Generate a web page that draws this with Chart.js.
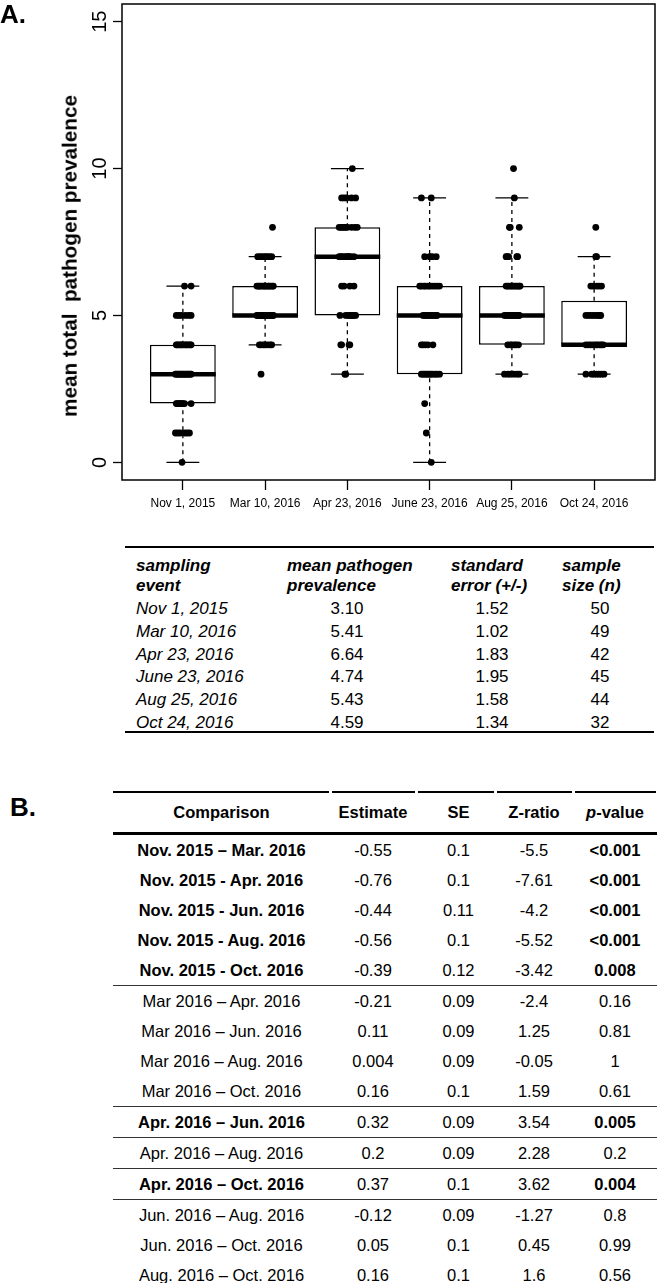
<!DOCTYPE html>
<html><head><meta charset="utf-8">
<script src="https://cdn.jsdelivr.net/npm/chart.js@4.4.1/dist/chart.umd.min.js"></script>
<style>
html,body{margin:0;padding:0;background:#fff;}
#page{position:relative;width:659px;height:1283px;overflow:hidden;font-family:"Liberation Sans",Arial,sans-serif;color:#000;}
#chartBox{position:absolute;left:0;top:0;width:659px;height:520px;}
.abs{position:absolute;white-space:pre;line-height:1;}
.rule{position:absolute;background:#000;}
</style></head><body><div id="page">
<div id="chartBox"><canvas id="c"></canvas></div>
</div>
<script>
// ---------- Panel A chart data ----------
const categories = ['Nov 1, 2015','Mar 10, 2016','Apr 23, 2016','June 23, 2016','Aug 25, 2016','Oct 24, 2016'];
const lowerWhisker  = [0, 4, 3, 0, 3, 3];
const lowerQuartile = [2, 5, 5, 3, 4, 4];
const medians       = [3, 5, 7, 5, 5, 4];
const upperQuartile = [4, 6, 8, 6, 6, 5.5];
const upperWhisker  = [6, 7, 10, 9, 9, 7];
const yTicks = [0, 5, 10, 15];

const novValues = [0, 1,1,1,1,1,1, 2,2,2,2,2,2,2,2,2, 3,3,3,3,3,3,3,3,3,3,3,3,3,3, 4,4,4,4,4,4,4,4,4,4,4,4, 5,5,5,5,5,5, 6,6];
const novJitter = [-0.01, -0.09,-0.06,-0.03,0.02,0.05,0.08, -0.08,-0.07,-0.05,-0.04,-0.03,-0.01,0.0,0.02,0.1,
  -0.09,-0.08,-0.06,-0.05,-0.03,-0.02,0.0,0.01,0.03,0.04,0.06,0.07,0.09,0.1,
  -0.08,-0.07,-0.05,-0.03,-0.02,0.0,0.02,0.04,0.05,0.07,0.09,0.1, -0.08,-0.05,-0.02,0.03,0.07,0.1, 0.02,0.1];
const marValues = [3, 4,4,4,4,4,4,4, 5,5,5,5,5,5,5,5,5,5,5,5,5,5,5,5,5,5,5,5, 6,6,6,6,6,6,6,6,6,6,6,6,6, 7,7,7,7,7,7,7, 8];
const marJitter = [-0.05, -0.07,-0.05,-0.02,0.0,0.03,0.06,0.08,
  -0.1,-0.09,-0.07,-0.06,-0.05,-0.03,-0.02,-0.01,0.0,0.01,0.02,0.03,0.05,0.06,0.07,0.08,0.09,0.1,-0.04,0.04,
  -0.1,-0.08,-0.07,-0.05,-0.03,-0.01,0.0,0.02,0.04,0.05,0.07,0.09,0.1, -0.09,-0.06,-0.03,0.0,0.02,0.05,0.08, 0.09];
const aprValues = [3,3, 4,4,4,4, 5,5,5,5,5,5,5,5, 6,6,6,6, 7,7,7,7,7,7,7,7,7, 8,8,8,8,8,8,8,8,8, 9,9,9,9,9, 10];
const aprJitter = [-0.03,-0.02, -0.08,-0.07,0.02,0.03, -0.09,-0.02,0.01,0.03,0.05,0.06,0.08,0.1, -0.07,-0.04,0.03,0.08,
  -0.1,-0.08,-0.06,-0.03,-0.01,0.01,0.02,0.04,0.08, -0.1,-0.08,-0.06,-0.04,-0.02,0.0,0.05,0.09,0.12,
  -0.07,-0.04,-0.01,0.05,0.1, 0.06];
const junValues = [0, 1, 2, 3,3,3,3,3,3,3,3,3,3,3, 4,4,4,4,4, 5,5,5,5,5,5,5,5,5,5, 6,6,6,6,6,6,6,6,6,6, 7,7,7,7, 9,9];
const junJitter = [0.02, -0.04, -0.06, -0.1,-0.08,-0.06,-0.04,-0.02,0.0,0.02,0.04,0.07,0.09,0.12, -0.1,-0.08,-0.05,-0.02,0.04,
  -0.08,-0.06,-0.04,-0.02,0.0,0.02,0.04,0.06,0.08,0.09, -0.12,-0.1,-0.07,-0.05,-0.02,0.0,0.03,0.06,0.09,0.12,
  -0.06,0.0,0.03,0.08, -0.1,0.02];
const augValues = [3,3,3,3,3,3, 4,4,4,4,4,4, 5,5,5,5,5,5,5,5,5,5,5,5, 6,6,6,6,6,6,6,6,6,6, 7,7,7,7,7, 8,8,8, 9, 10];
const augJitter = [-0.09,-0.05,-0.02,0.02,0.06,0.09, -0.05,-0.02,0.0,0.03,0.05,0.08,
  -0.09,-0.07,-0.05,-0.03,-0.01,0.0,0.02,0.03,0.05,0.07,0.08,0.09, -0.07,-0.05,-0.03,-0.01,0.01,0.03,0.05,0.07,0.09,0.1,
  -0.07,-0.06,-0.04,0.06,0.07, -0.03,-0.02,0.09, 0.03, 0.02];
const octValues = [3,3,3,3,3,3,3, 4,4,4,4,4,4,4,4,4, 5,5,5,5,5,5,5,5, 6,6,6,6,6, 7,7, 8];
const octJitter = [-0.1,-0.03,0.0,0.03,0.06,0.09,0.12, -0.1,-0.07,-0.04,-0.01,0.02,0.04,0.07,0.09,0.11,
  -0.1,-0.07,-0.04,-0.01,0.02,0.05,0.07,0.08, -0.04,-0.01,0.03,0.06,0.09, 0.02,0.03, 0.02];

// ---------- Panel A table ----------
const samplingEvents = ['Nov 1, 2015','Mar 10, 2016','Apr 23, 2016','June 23, 2016','Aug 25, 2016','Oct 24, 2016'];
const meanPrevalence = ['3.10','5.41','6.64','4.74','5.43','4.59'];
const standardErrors = ['1.52','1.02','1.83','1.95','1.58','1.34'];
const sampleSizes = ['50','49','42','45','44','32'];

// ---------- Panel B table ----------
const comparisons = ['Nov. 2015 \u2013 Mar. 2016','Nov. 2015 - Apr. 2016','Nov. 2015 - Jun. 2016','Nov. 2015 - Aug. 2016','Nov. 2015 - Oct. 2016',
  'Mar 2016 \u2013 Apr. 2016','Mar 2016 \u2013 Jun. 2016','Mar 2016 \u2013 Aug. 2016','Mar 2016 \u2013 Oct. 2016',
  'Apr. 2016 \u2013 Jun. 2016','Apr. 2016 \u2013 Aug. 2016','Apr. 2016 \u2013 Oct. 2016',
  'Jun. 2016 \u2013 Aug. 2016','Jun. 2016 \u2013 Oct. 2016','Aug. 2016 \u2013 Oct. 2016'];
const estimates = ['-0.55','-0.76','-0.44','-0.56','-0.39','-0.21','0.11','0.004','0.16','0.32','0.2','0.37','-0.12','0.05','0.16'];
const ses = ['0.1','0.1','0.11','0.1','0.12','0.09','0.09','0.09','0.1','0.09','0.09','0.1','0.09','0.1','0.1'];
const zRatios = ['-5.5','-7.61','-4.2','-5.52','-3.42','-2.4','1.25','-0.05','1.59','3.54','2.28','3.62','-1.27','0.45','1.6'];
const pValues = ['<0.001','<0.001','<0.001','<0.001','0.008','0.16','0.81','1','0.61','0.005','0.2','0.004','0.8','0.99','0.56'];
const significant = [1,1,1,1,1,0,0,0,0,1,0,1,0,0,0];
const ruleAfter = [4,8,9,10,11];

// ---------- build chart ----------
Chart.defaults.font.family = '"Liberation Sans", Arial, sans-serif';
Chart.defaults.color = '#000';

const groups = [[novValues,novJitter],[marValues,marJitter],[aprValues,aprJitter],[junValues,junJitter],[augValues,augJitter],[octValues,octJitter]];
const points = groups.flatMap(([vals,jit],i)=>vals.map((v,k)=>({x:i+1+jit[k], y:v})));

const boxHalf = 0.4, capHalf = 0.2;
const whiskerPts = [], capPts = [], medianPts = [];
categories.forEach((c,i)=>{
  const x = i+1;
  whiskerPts.push({x, y:upperQuartile[i]},{x, y:upperWhisker[i]},{x, y:null},{x, y:lowerWhisker[i]},{x, y:lowerQuartile[i]},{x, y:null});
  capPts.push({x:x-capHalf, y:upperWhisker[i]},{x:x+capHalf, y:upperWhisker[i]},{x, y:null},{x:x-capHalf, y:lowerWhisker[i]},{x:x+capHalf, y:lowerWhisker[i]},{x, y:null});
  medianPts.push({x:x-boxHalf, y:medians[i]},{x:x+boxHalf, y:medians[i]},{x, y:null});
});

const frame = { id:'frame', afterDatasetsDraw(chart){
  const {ctx, chartArea:a} = chart; ctx.save(); ctx.lineWidth = 1.5; ctx.strokeStyle = '#000';
  ctx.strokeRect(a.left, a.top, a.right-a.left, a.bottom-a.top); ctx.restore(); } };

new Chart(document.getElementById('c'), {
  type: 'scatter',
  data: { datasets: [
    { type:'bar', label:'IQR', data: categories.map((c,i)=>({x:i+1, y:[lowerQuartile[i], upperQuartile[i]]})),
      backgroundColor:'#fff', borderColor:'#000', borderWidth:1.5, borderSkipped:false, categoryPercentage:0.8, barPercentage:1, order:5 },
    { type:'line', label:'whiskers', data: whiskerPts, borderColor:'#000', borderWidth:1.3, borderDash:[4,4], pointRadius:0, fill:false, spanGaps:false, order:4 },
    { type:'line', label:'caps', data: capPts, borderColor:'#000', borderWidth:1.3, pointRadius:0, fill:false, spanGaps:false, order:3 },
    { type:'line', label:'median', data: medianPts, borderColor:'#000', borderWidth:4.5, borderCapStyle:'butt', pointRadius:0, fill:false, spanGaps:false, order:2 },
    { type:'scatter', label:'samples', data: points, backgroundColor:'#000', borderWidth:0, pointRadius:3.4, order:1 }
  ]},
  options: {
    animation:false, responsive:true, maintainAspectRatio:false,
    layout:{ padding:{ top:1, right:1.5, bottom:0, left:0 } },
    plugins:{ legend:{display:false}, tooltip:{enabled:false} },
    scales:{
      x:{ type:'linear', min:0.26, max:6.74, offset:false, bounds:'data',
        grid:{ offset:false, drawOnChartArea:false, drawTicks:true, tickLength:10, tickWidth:1.3, tickColor:'#000' },
        border:{ display:false },
        ticks:{ autoSkip:false, maxRotation:0, minRotation:0, padding:6, color:'#000', font:{size:12},
          callback:(v)=>categories[Math.round(v)-1] || '' },
        afterBuildTicks:(s)=>{ s.ticks = categories.map((c,i)=>({value:i+1})); },
        afterFit:(s)=>{ s.height = 40; s.paddingLeft = 0; s.paddingRight = 0; } },
      y:{ type:'linear', min:-0.6, max:15.6, bounds:'data',
        grid:{ drawOnChartArea:false, drawTicks:true, tickLength:9, tickWidth:1.3, tickColor:'#000' },
        border:{ display:false },
        ticks:{ minRotation:90, maxRotation:90, crossAlign:'center', padding:1, color:'#000', font:{size:20} },
        afterBuildTicks:(s)=>{ s.ticks = yTicks.map(v=>({value:v})); },
        afterFit:(s)=>{ s.width = 122; s.paddingTop = 0; s.paddingBottom = 0; } }
    }
  },
  plugins:[frame]
});

// ---------- HTML text helpers ----------
const page = document.getElementById('page');
function txt(s, x, y, o={}){
  const d = document.createElement('div'); d.className = 'abs';
  if (o.html) d.innerHTML = s; else d.textContent = s;
  d.style.left = x+'px'; d.style.top = y+'px';
  d.style.fontSize = (o.size||16)+'px'; d.style.fontWeight = o.weight||'normal'; d.style.fontStyle = o.style||'normal';
  const a = o.align||'left';
  d.style.transform = (a==='center'?'translate(-50%,-50%)':a==='right'?'translate(-100%,-50%)':'translate(0,-50%)') + (o.rotate?` rotate(${o.rotate}deg)`:'');
  page.appendChild(d); return d;
}
function rule(x1, x2, y, h, color){
  const d = document.createElement('div'); d.className = 'rule';
  d.style.left = x1+'px'; d.style.width = (x2-x1)+'px'; d.style.top = (y-h/2)+'px'; d.style.height = h+'px';
  if (color) d.style.background = color; page.appendChild(d);
}

// Panel labels and axis title
txt('A.', 0, 14, {size:26, weight:'bold'});
txt('mean total  pathogen prevalence', 70, 255.5, {size:20.7, weight:'bold', align:'center', rotate:-90});

// ---------- Table A ----------
rule(125, 654, 547, 2);
const hA = {size:17, weight:'bold', style:'italic'};
txt('sampling', 136, 565, hA); txt('event', 136, 585, hA);
txt('mean pathogen', 287, 565, hA); txt('prevalence', 287, 585, hA);
txt('standard', 451, 565, hA); txt('error (+/-)', 451, 585, hA);
txt('sample', 562, 565, hA); txt('size (n)', 562, 585, hA);
samplingEvents.forEach((e,i)=>{
  const y = 608 + 22.8*i;
  txt(e, 136, y, {size:17, style:'italic'});
  txt(meanPrevalence[i], 347, y, {size:17, align:'center'});
  txt(standardErrors[i], 492, y, {size:17, align:'center'});
  txt(sampleSizes[i], 600, y, {size:17, align:'center'});
});
rule(125, 654, 732, 2);

// ---------- Table B ----------
txt('B.', 10, 807, {size:26, weight:'bold'});
const colEdges = [113, 330, 416, 495, 573, 657];
const colCenters = colEdges.slice(0,-1).map((e,i)=>(e+colEdges[i+1])/2);
for (let i=0;i<5;i++) rule(colEdges[i]+(i?1.5:0), colEdges[i+1]-1.5, 792, 1.5);
const fB = 16.5;
const hB = {size:fB, weight:'bold', align:'center'};
txt('Comparison', colCenters[0], 812, hB);
txt('Estimate', colCenters[1], 812, hB);
txt('SE', colCenters[2]+3, 812, hB);
txt('Z-ratio', colCenters[3], 812, hB);
txt('<i>p</i>-value', colCenters[4], 812, Object.assign({html:true}, hB));
rule(113, 657, 833.5, 2.5);
let yB = 850;
comparisons.forEach((c,i)=>{
  const w = significant[i] ? 'bold' : 'normal';
  txt(c, colCenters[0], yB, {size:fB, weight:w, align:'center'});
  txt(estimates[i], colCenters[1], yB, {size:fB, align:'center'});
  txt(ses[i], colCenters[2]+3, yB, {size:fB, align:'center'});
  txt(zRatios[i], colCenters[3], yB, {size:fB, align:'center'});
  txt(pValues[i], colCenters[4], yB, {size:fB, weight:w, align:'center'});
  if (ruleAfter.includes(i)) { rule(113, 657, yB+15.5, 1.3, '#333'); yB += 31; } else { yB += 30; }
});
</script>
</body></html>
